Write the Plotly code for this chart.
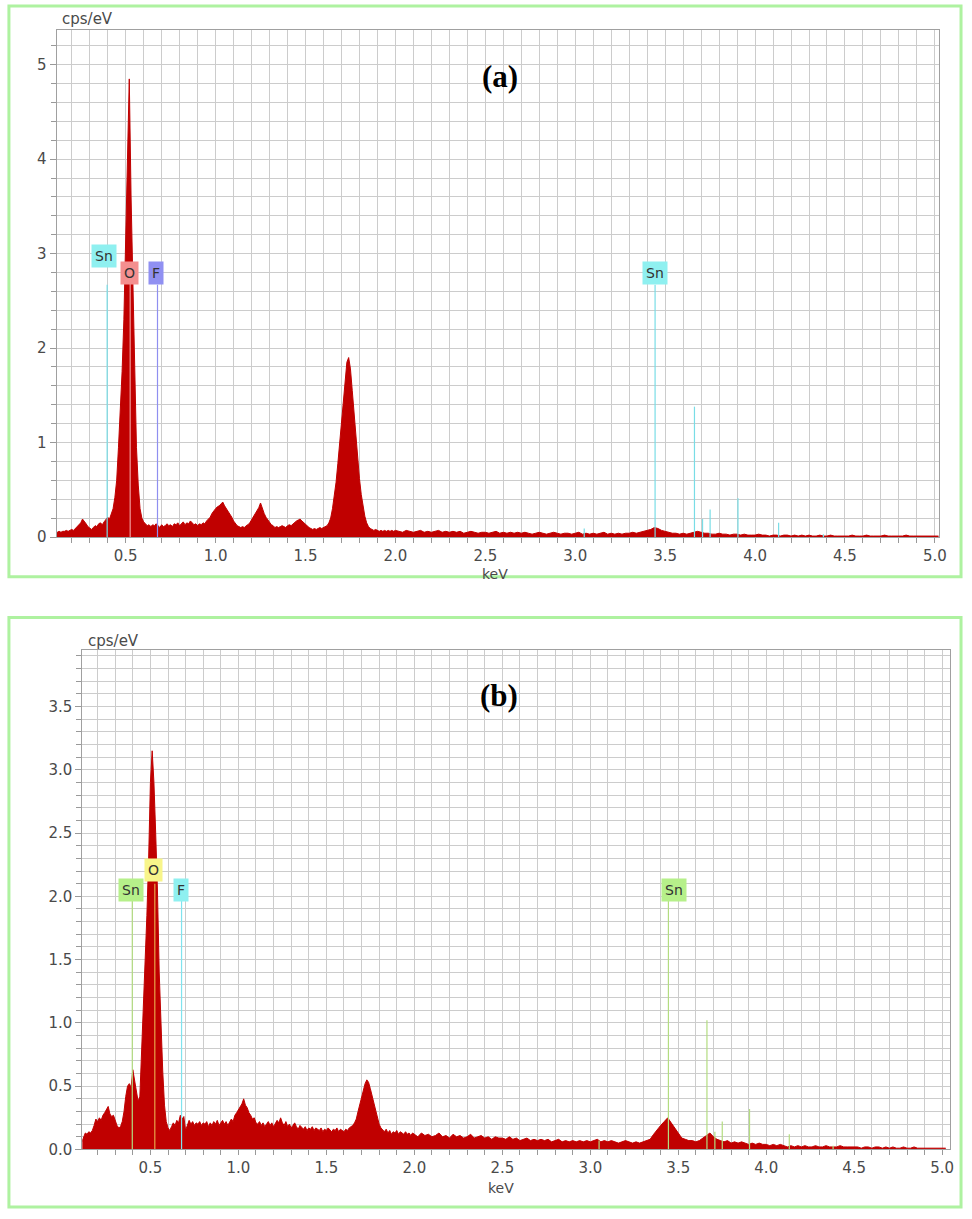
import plotly.graph_objects as go

W, H = 972, 1219


def px(p):
    return p / W


def py(p):
    return 1 - p / H


# ---------------- channel energies (keV) ----------------
# fine channels 0.11..1.99 (0.01 keV), coarse channels 2.00..5.02 (0.02 keV)
energy_lo = [round(0.11 + 0.01 * i, 2) for i in range(189)]
energy_hi = [round(2.00 + 0.02 * i, 2) for i in range(152)]

# ---------------- spectrum (a), cps/eV ----------------
counts_a_lo = [
    0.04, 0.05, 0.06, 0.05, 0.06, 0.06, 0.07, 0.06, 0.07, 0.08,   # 0.11-0.20
    0.07, 0.09, 0.11, 0.13, 0.15, 0.19, 0.17, 0.14, 0.11, 0.09,   # 0.21-0.30
    0.08, 0.10, 0.12, 0.11, 0.14, 0.15, 0.13, 0.16, 0.18, 0.21,   # 0.31-0.40
    0.19, 0.24, 0.30, 0.42, 0.60, 0.95, 1.30, 1.75, 2.30, 3.10,   # 0.41-0.50
    4.20, 4.85, 3.60, 2.60, 1.60, 0.95, 0.55, 0.30, 0.20, 0.16,   # 0.51-0.60
    0.14, 0.12, 0.13, 0.11, 0.13, 0.12, 0.14, 0.12, 0.10, 0.13,   # 0.61-0.70
    0.11, 0.12, 0.14, 0.12, 0.13, 0.11, 0.14, 0.13, 0.15, 0.12,   # 0.71-0.80
    0.14, 0.16, 0.13, 0.15, 0.14, 0.17, 0.15, 0.13, 0.14, 0.12,   # 0.81-0.90
    0.14, 0.13, 0.15, 0.14, 0.17, 0.19, 0.21, 0.25, 0.28, 0.30,   # 0.91-1.00
    0.32, 0.33, 0.35, 0.37, 0.33, 0.30, 0.27, 0.25, 0.21, 0.17,   # 1.01-1.10
    0.14, 0.12, 0.11, 0.10, 0.11, 0.10, 0.12, 0.13, 0.15, 0.18,   # 1.11-1.20
    0.21, 0.24, 0.27, 0.31, 0.36, 0.30, 0.25, 0.21, 0.18, 0.15,   # 1.21-1.30
    0.13, 0.12, 0.10, 0.11, 0.10, 0.11, 0.12, 0.11, 0.10, 0.12,   # 1.31-1.40
    0.13, 0.12, 0.14, 0.15, 0.17, 0.18, 0.19, 0.17, 0.15, 0.13,   # 1.41-1.50
    0.12, 0.10, 0.09, 0.08, 0.09, 0.08, 0.09, 0.10, 0.09, 0.10,   # 1.51-1.60
    0.11, 0.12, 0.15, 0.20, 0.30, 0.42, 0.58, 0.78, 1.00, 1.25,   # 1.61-1.70
    1.50, 1.70, 1.85, 1.90, 1.78, 1.55, 1.30, 1.05, 0.85, 0.62,   # 1.71-1.80
    0.45, 0.32, 0.22, 0.15, 0.11, 0.09, 0.08, 0.07, 0.08, 0.07,   # 1.81-1.90
    0.06, 0.07, 0.06, 0.07, 0.06, 0.07, 0.06, 0.07, 0.06,         # 1.91-1.99
]
counts_a_hi = [
    0.07, 0.06, 0.05, 0.07, 0.06, 0.05, 0.06, 0.07, 0.05, 0.06, 0.05, 0.06, 0.07,
    0.05, 0.06, 0.05, 0.06, 0.05, 0.06, 0.04, 0.05, 0.06, 0.05, 0.04, 0.05,          # 2.00-2.48
    0.05, 0.04, 0.05, 0.06, 0.04, 0.05, 0.04, 0.05, 0.04, 0.05, 0.04, 0.05, 0.04,
    0.03, 0.04, 0.05, 0.04, 0.03, 0.04, 0.05, 0.04, 0.03, 0.04, 0.04, 0.03,          # 2.50-2.98
    0.04, 0.05, 0.03, 0.04, 0.03, 0.04, 0.03, 0.04, 0.05, 0.03, 0.04, 0.03, 0.04,
    0.03, 0.04, 0.04, 0.05, 0.04, 0.05, 0.06, 0.07, 0.08, 0.10, 0.09, 0.07,          # 3.00-3.48
    0.06, 0.05, 0.04, 0.04, 0.03, 0.04, 0.03, 0.04, 0.05, 0.06, 0.05, 0.04, 0.04,
    0.03, 0.03, 0.04, 0.03, 0.03, 0.02, 0.03, 0.03, 0.02, 0.03, 0.02, 0.02,          # 3.50-3.98
    0.02, 0.03, 0.02, 0.02, 0.01, 0.02, 0.02, 0.01, 0.02, 0.02, 0.01, 0.02, 0.01,
    0.02, 0.01, 0.02, 0.01, 0.01, 0.02, 0.01, 0.01, 0.02, 0.01, 0.01, 0.01,          # 4.00-4.48
    0.01, 0.01, 0.02, 0.01, 0.01, 0.01, 0.02, 0.01, 0.01, 0.01, 0.01, 0.02, 0.01,
    0.01, 0.01, 0.01, 0.01, 0.02, 0.01, 0.01, 0.01, 0.01, 0.01, 0.01, 0.01, 0.01, 0.01,  # 4.50-5.02
]

# ---------------- spectrum (b), cps/eV ----------------
counts_b_lo = [
    0.06, 0.10, 0.13, 0.12, 0.14, 0.13, 0.15, 0.19, 0.24, 0.22,   # 0.11-0.20
    0.25, 0.23, 0.27, 0.29, 0.31, 0.34, 0.28, 0.26, 0.27, 0.23,   # 0.21-0.30
    0.19, 0.17, 0.18, 0.22, 0.30, 0.42, 0.50, 0.52, 0.49, 0.63,   # 0.31-0.40
    0.55, 0.45, 0.38, 0.42, 0.75, 1.10, 1.45, 1.85, 2.30, 2.90,   # 0.41-0.50
    3.15, 2.90, 2.50, 2.05, 1.40, 0.95, 0.62, 0.35, 0.22, 0.17,   # 0.51-0.60
    0.15, 0.18, 0.21, 0.19, 0.23, 0.21, 0.27, 0.24, 0.26, 0.15,   # 0.61-0.70
    0.19, 0.23, 0.20, 0.22, 0.19, 0.21, 0.20, 0.22, 0.19, 0.21,   # 0.71-0.80
    0.20, 0.22, 0.18, 0.21, 0.19, 0.22, 0.20, 0.23, 0.19, 0.21,   # 0.81-0.90
    0.23, 0.20, 0.22, 0.19, 0.21, 0.24, 0.22, 0.27, 0.29, 0.31,   # 0.91-1.00
    0.33, 0.36, 0.40, 0.35, 0.33, 0.29, 0.27, 0.24, 0.25, 0.21,   # 1.01-1.10
    0.20, 0.22, 0.19, 0.21, 0.18, 0.20, 0.22, 0.19, 0.21, 0.18,   # 1.11-1.20
    0.20, 0.23, 0.21, 0.25, 0.21, 0.19, 0.22, 0.18, 0.20, 0.17,   # 1.21-1.30
    0.19, 0.21, 0.18, 0.16, 0.19, 0.17, 0.16, 0.18, 0.15, 0.17,   # 1.31-1.40
    0.16, 0.18, 0.15, 0.17, 0.16, 0.15, 0.17, 0.14, 0.16, 0.15,   # 1.41-1.50
    0.17, 0.15, 0.14, 0.16, 0.15, 0.17, 0.14, 0.16, 0.15, 0.14,   # 1.51-1.60
    0.16, 0.15, 0.17, 0.18, 0.19, 0.21, 0.24, 0.30, 0.36, 0.42,   # 1.61-1.70
    0.48, 0.52, 0.55, 0.53, 0.48, 0.42, 0.36, 0.30, 0.24, 0.20,   # 1.71-1.80
    0.17, 0.15, 0.14, 0.16, 0.13, 0.15, 0.12, 0.14, 0.13, 0.15,   # 1.81-1.90
    0.12, 0.14, 0.13, 0.12, 0.14, 0.12, 0.13, 0.11, 0.13,         # 1.91-1.99
]
counts_b_hi = [
    0.12, 0.10, 0.13, 0.11, 0.12, 0.10, 0.11, 0.13, 0.10, 0.11, 0.09, 0.12, 0.10,
    0.11, 0.09, 0.10, 0.12, 0.09, 0.10, 0.11, 0.09, 0.10, 0.08, 0.10, 0.09,          # 2.00-2.48
    0.09, 0.08, 0.10, 0.08, 0.09, 0.07, 0.08, 0.09, 0.07, 0.08, 0.07, 0.08, 0.07,
    0.08, 0.06, 0.07, 0.08, 0.06, 0.07, 0.06, 0.07, 0.06, 0.07, 0.06, 0.07,          # 2.50-2.98
    0.06, 0.07, 0.08, 0.06, 0.07, 0.06, 0.07, 0.06, 0.05, 0.06, 0.07, 0.06, 0.05,
    0.06, 0.05, 0.06, 0.07, 0.08, 0.12, 0.16, 0.19, 0.22, 0.25, 0.21, 0.17,          # 3.00-3.48
    0.12, 0.09, 0.08, 0.07, 0.07, 0.06, 0.07, 0.09, 0.11, 0.13, 0.10, 0.08, 0.07,
    0.06, 0.07, 0.05, 0.06, 0.05, 0.06, 0.05, 0.04, 0.05, 0.04, 0.05, 0.04,          # 3.50-3.98
    0.04, 0.03, 0.04, 0.03, 0.04, 0.03, 0.02, 0.03, 0.02, 0.03, 0.02, 0.03, 0.02,
    0.02, 0.03, 0.02, 0.02, 0.03, 0.02, 0.02, 0.02, 0.03, 0.02, 0.02, 0.02,          # 4.00-4.48
    0.02, 0.02, 0.01, 0.02, 0.02, 0.01, 0.02, 0.02, 0.01, 0.02, 0.01, 0.02, 0.01,
    0.01, 0.02, 0.01, 0.01, 0.02, 0.01, 0.01, 0.01, 0.01, 0.01, 0.01, 0.01, 0.01, 0.01,  # 4.50-5.02
]

# ---------------- element marker lines ----------------
sn_lines_keV = [0.397, 3.050, 3.444, 3.663, 3.708, 3.750, 3.905, 4.131, 4.380]
sn_heights_a = [2.67, 0.09, 2.67, 1.38, 0.19, 0.29, 0.41, 0.15, 0.03]
sn_heights_b = [1.98, 0.07, 1.98, 1.02, 0.14, 0.22, 0.32, 0.12, 0.03]
o_line_keV, o_height_a, o_height_b = 0.525, 2.70, 2.10
f_line_keV, f_height_a, f_height_b = 0.677, 2.67, 1.98

# label boxes: (text, keV, cps/eV)
labels_a = [("Sn", 0.378, 2.98), ("O", 0.522, 2.79), ("F", 0.668, 2.79), ("Sn", 3.445, 2.79)]
labels_b = [("Sn", 0.392, 2.05), ("O", 0.515, 2.21), ("F", 0.675, 2.05), ("Sn", 3.475, 2.05)]

RED = "#C00000"
GRID = "#cccccc"
TICKC = "#4a4a4a"

fig = go.Figure()


def vlines(xs, hs):
    X, Y = [], []
    for x, h in zip(xs, hs):
        X += [x, x, None]
        Y += [0, h, None]
    return X, Y


def add_panel(xa, ya, e, c, sn_h, o_h, f_h, cols):
    fig.add_trace(go.Scatter(x=e, y=c, mode="lines", line=dict(color=RED, width=1),
                             fill="tozeroy", fillcolor=RED, xaxis=xa, yaxis=ya,
                             showlegend=False, hoverinfo="skip"))
    X, Y = vlines(sn_lines_keV, sn_h)
    fig.add_trace(go.Scatter(x=X, y=Y, mode="lines", line=dict(color=cols[0], width=1.2),
                             xaxis=xa, yaxis=ya, showlegend=False, hoverinfo="skip"))
    X, Y = vlines([o_line_keV], [o_h])
    fig.add_trace(go.Scatter(x=X, y=Y, mode="lines", line=dict(color=cols[1], width=1.2),
                             xaxis=xa, yaxis=ya, showlegend=False, hoverinfo="skip"))
    X, Y = vlines([f_line_keV], [f_h])
    fig.add_trace(go.Scatter(x=X, y=Y, mode="lines", line=dict(color=cols[2], width=1.2),
                             xaxis=xa, yaxis=ya, showlegend=False, hoverinfo="skip"))


add_panel("x", "y", energy_lo + energy_hi, counts_a_lo + counts_a_hi,
          sn_heights_a, o_height_a, f_height_a, ["#79dde6", "#f19a9a", "#8f8ff0"])
add_panel("x2", "y2", energy_lo + energy_hi, counts_b_lo + counts_b_hi,
          sn_heights_b, o_height_b, f_height_b, ["#b3dc80", "#e8a24a", "#7fe3ee"])

font_tick = dict(family="DejaVu Sans", size=15, color=TICKC)


def xaxis_cfg(dom, rng):
    return dict(domain=dom, range=rng, dtick=0.5, tick0=0, tickformat=".1f",
                showgrid=True, gridcolor=GRID, gridwidth=1.2,
                minor=dict(dtick=0.1, tick0=0, showgrid=True, gridcolor=GRID, gridwidth=1.2,
                           ticks="outside", ticklen=5, tickcolor="#999"),
                ticks="outside", ticklen=5, tickcolor="#999",
                showline=True, linecolor="#a0a0a0", linewidth=1, mirror=True,
                tickfont=font_tick, zeroline=False, fixedrange=True)


def yaxis_cfg(dom, rng, dt, mdt, fmt, anchor):
    return dict(domain=dom, range=rng, dtick=dt, tick0=0, tickformat=fmt,
                showgrid=True, gridcolor=GRID, gridwidth=1.2,
                minor=dict(dtick=mdt, tick0=0, showgrid=True, gridcolor=GRID, gridwidth=1.2,
                           ticks="outside", ticklen=5, tickcolor="#999"),
                ticks="outside", ticklen=6, tickcolor="#999",
                showline=True, linecolor="#a0a0a0", linewidth=1, mirror=True,
                tickfont=font_tick, zeroline=False, anchor=anchor, fixedrange=True)


fig.update_layout(
    width=W, height=H, margin=dict(l=0, r=0, t=0, b=0),
    paper_bgcolor="white", plot_bgcolor="white", showlegend=False,
    xaxis=dict(xaxis_cfg([px(57), px(947)], [0.1155, 5.024]), anchor="y"),
    yaxis=yaxis_cfg([py(541), py(30)], [0, 5.37], 1, 0.2, "d", "x"),
    xaxis2=dict(xaxis_cfg([px(83), px(958)], [0.113, 5.045]), anchor="y2"),
    yaxis2=yaxis_cfg([py(1158), py(655)], [0, 3.945], 0.5, 0.1, ".1f", "x2"),
)

ann = []
# element label boxes
box_a = {"Sn": "#8ff0f0", "O": "#f48f8f", "F": "#9090f2"}
box_b = {"Sn": "#b6f08a", "O": "#f8f58a", "F": "#8ff0f0"}
for t, x, y in labels_a:
    ann.append(dict(text=t, x=x, y=y, xref="x", yref="y", showarrow=False,
                    bgcolor=box_a[t], borderpad=3,
                    font=dict(family="DejaVu Sans", size=14, color="#333333")))
for t, x, y in labels_b:
    ann.append(dict(text=t, x=x, y=y, xref="x2", yref="y2", showarrow=False,
                    bgcolor=box_b[t], borderpad=3,
                    font=dict(family="DejaVu Sans", size=14, color="#333333")))

# axis captions
ann.append(dict(text="cps/eV", x=px(61), y=py(19), xref="paper", yref="paper",
                xanchor="left", yanchor="middle", showarrow=False,
                font=dict(family="DejaVu Sans", size=15, color=TICKC)))
ann.append(dict(text="cps/eV", x=px(87), y=py(646), xref="paper", yref="paper",
                xanchor="left", yanchor="middle", showarrow=False,
                font=dict(family="DejaVu Sans", size=15, color=TICKC)))
ann.append(dict(text="keV", x=px(499), y=py(578), xref="paper", yref="paper",
                xanchor="center", yanchor="middle", showarrow=False,
                font=dict(family="DejaVu Sans", size=14, color=TICKC)))
ann.append(dict(text="keV", x=px(505), y=py(1197), xref="paper", yref="paper",
                xanchor="center", yanchor="middle", showarrow=False,
                font=dict(family="DejaVu Sans", size=14, color=TICKC)))
# panel letters
ann.append(dict(text="<b>(a)</b>", x=px(504), y=py(77), xref="paper", yref="paper",
                xanchor="center", yanchor="middle", showarrow=False,
                font=dict(family="Liberation Serif", size=31, color="black")))
ann.append(dict(text="<b>(b)</b>", x=px(503), y=py(701), xref="paper", yref="paper",
                xanchor="center", yanchor="middle", showarrow=False,
                font=dict(family="Liberation Serif", size=31, color="black")))
fig.update_layout(annotations=ann)

# light green frames around each panel
GREEN = "#aef2a0"
fig.add_shape(type="rect", xref="paper", yref="paper", x0=px(9), x1=px(969),
              y0=py(581), y1=py(6), line=dict(color=GREEN, width=3), layer="above")
fig.add_shape(type="rect", xref="paper", yref="paper", x0=px(9), x1=px(969),
              y0=py(1216), y1=py(622), line=dict(color=GREEN, width=3), layer="above")

fig.write_html("out.html", config={"displayModeBar": False},
               post_script="document.body.style.margin='0px';"
                           "document.body.style.overflow='hidden';")
